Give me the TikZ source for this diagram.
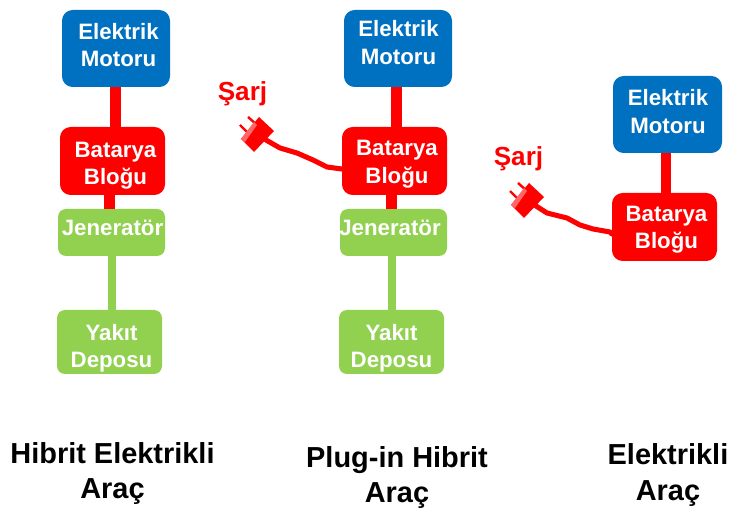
\documentclass[tikz,border=0pt]{standalone}
\usepackage{fontspec}
\setmainfont{Liberation Sans}
\definecolor{mblue}{HTML}{0070C0}
\definecolor{mred}{HTML}{FF0000}
\definecolor{mgreen}{HTML}{92D050}
\definecolor{mpink}{HTML}{FF6666}
% name, x0,y0,x1,y1, style, dx, dy, text
\newcommand{\bx}[9]{%
  \node[#6,minimum width={(#4-#2)*0.75pt},minimum height={(#5-#3)*0.75pt}] (#1) at ({(#2+#4)/2},{(#3+#5)/2}) {};
  \node[lbl] (#1t) at ({(#2+#4)/2+#7},{(#3+#5)/2+#8}) {#9};
}
\newcommand{\plug}[3]{%
  \begin{scope}[shift={(#2,#3)}]
    \draw[mred,line width=1.8pt] (-11,-3) -- (-2,6);
    \draw[mred,line width=1.8pt] (-3,-11) -- (6,-3);
    \fill[mred] (8,-11) -- (23,3) -- (3,24) -- (-10,11) -- cycle;
    \fill[mpink] (-10,11) -- (3,-6) -- (6,-3) -- (-6,14) -- cycle;
    \coordinate (#1) at (15,12);
  \end{scope}
}
\tikzset{
  lbl/.style={inner sep=0pt,text=white,font=\fontsize{16.7pt}{20.6pt}\selectfont\bfseries,align=center},
  ttl/.style={inner sep=0pt,font=\fontsize{21.7pt}{26.3pt}\selectfont\bfseries,align=center,text=black},
  chg/.style={inner sep=0pt,font=\fontsize{19.6pt}{23pt}\selectfont\bfseries,text=mred},
  rbox/.style={inner sep=0pt,fill=mred,rounded corners=8pt},
  bbox/.style={inner sep=0pt,fill=mblue,rounded corners=8pt},
  gbox/.style={inner sep=0pt,fill=mgreen,rounded corners=6pt},
  redlink/.style={draw=mred,line width=8.2pt},
  greenlink/.style={draw=mgreen,line width=6pt},
  cord/.style={draw=mred,line width=3.8pt,line join=round,line cap=round}
}
\begin{document}
\begin{tikzpicture}[x=0.75pt,y=-0.75pt]
\useasboundingbox (0,0) rectangle (732,509);
% column 1
\bx{m1}{62}{10}{170}{87}{bbox}{2.5}{-3.5}{Elektrik\\Motoru}
\bx{b1}{60}{127}{165}{195}{rbox}{3}{4.5}{Batarya\\Bloğu}
\bx{j1}{58}{209}{165}{256}{gbox}{1}{-4.5}{Jeneratör}
\bx{y1}{57}{310}{162}{374}{gbox}{2}{6}{Yakıt\\Deposu}
\draw[redlink] (115.5,0 |- m1.south) -- (115.5,0 |- b1.north);
\draw[redlink] (109.5,0 |- b1.south) -- (109.5,0 |- j1.north);
\draw[greenlink] (112,0 |- j1.south) -- (112,0 |- y1.north);
% column 2
\bx{m2}{344}{10}{452}{87}{bbox}{0.5}{-6}{Elektrik\\Motoru}
\bx{b2}{342}{127}{447}{195}{rbox}{2.5}{3}{Batarya\\Bloğu}
\bx{j2}{340}{209}{447}{256}{gbox}{-3.5}{-4.5}{Jeneratör}
\bx{y2}{339}{310}{444}{374}{gbox}{0}{6}{Yakıt\\Deposu}
\draw[redlink] (396.5,0 |- m2.south) -- (396.5,0 |- b2.north);
\draw[redlink] (391.5,0 |- b2.south) -- (391.5,0 |- j2.north);
\draw[greenlink] (392,0 |- j2.south) -- (392,0 |- y2.north);
% column 3
\bx{m3}{613}{76}{722}{153}{bbox}{0.5}{-3}{Elektrik\\Motoru}
\bx{b3}{612}{193}{717}{261}{rbox}{2}{2.5}{Batarya\\Bloğu}
\draw[redlink] (666,0 |- m3.south) -- (666,0 |- b3.north);
% plugs and cords
\plug{p1}{251}{128}
\plug{p2}{521}{194}
\draw[cord] (p1) -- ++(14,8) -- ++(17,5) -- ++(16,7) -- ++(14,7) -- (b2.west |- 0,169);
\draw[cord] (p2) -- ++(11,7) -- ++(20,5) -- ++(13,7) -- ++(13,4) -- ++(17,3) -- (b3.west |- 0,234);
\node[chg] (s1) at (242.5,93.5) {Şarj};
\node[chg] (s2) at (518.5,159) {Şarj};
% titles
\node[ttl] (t1) at (112.5,473.5) {Hibrit Elektrikli\\Araç};
\node[ttl] (t2) at (397,477.5) {Plug-in Hibrit\\Araç};
\node[ttl] (t3) at (668,475) {Elektrikli\\Araç};
\end{tikzpicture}
\end{document}
